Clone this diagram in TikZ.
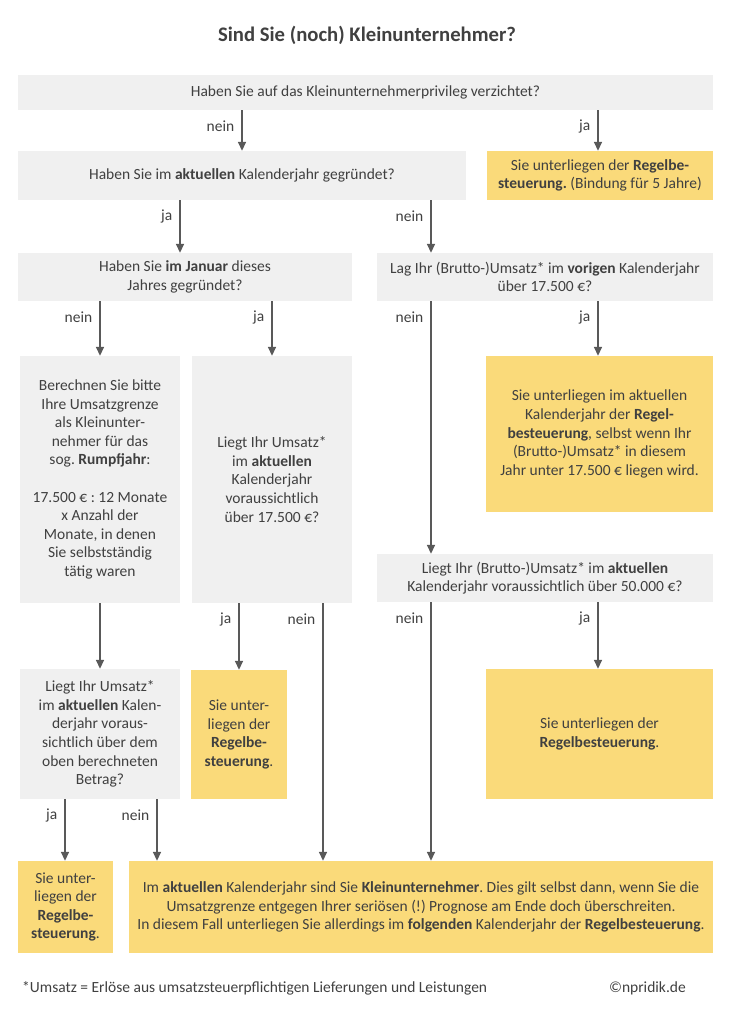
\documentclass[tikz,border=0pt]{standalone}
\usepackage{fontspec}
\setmainfont{Carlito}
\usepackage{xcolor}
\usepackage{tikz}
\usetikzlibrary{positioning, shapes, arrows.meta}

\definecolor{boxgray}{HTML}{F0F0F0}
\definecolor{boxyellow}{HTML}{FADA7A}
\definecolor{txtgray}{HTML}{404040}
\definecolor{arrowgray}{HTML}{595959}

\tikzset{
    frage/.style={fill=boxgray, text=txtgray, align=center, inner sep=2pt,
        font=\fontsize{15.5}{18.6}\selectfont\frenchspacing},
    antwort/.style={frage, fill=boxyellow},
    lbl/.style={text=txtgray, inner sep=0pt, anchor=east,
        font=\fontsize{15.5}{18}\selectfont, xshift=-7pt, yshift=-16pt},
    pfeil/.style={->, draw=arrowgray, line width=1.6pt}
}

\begin{document}
\begin{tikzpicture}[x=1pt, y=-1pt, >={Triangle[width=8pt,length=9pt]}]

    \useasboundingbox (0,0) rectangle (735,1029);

    % Title
    \node[text=txtgray, font=\fontsize{20.7}{24}\selectfont\bfseries] (titel) at (367,35) {Sind Sie (noch) Kleinunternehmer?};

    % Question nodes
    \node[frage, minimum width=695pt, minimum height=35pt] (verzicht) at (365.5,92.5) {Haben Sie auf das Kleinunternehmerprivileg verzichtet?};
    \node[frage, minimum width=448pt, minimum height=49pt] (gruendung) at (242,175.5) {Haben Sie im \textbf{aktuellen} Kalenderjahr gegründet?};
    \node[frage, minimum width=334pt, minimum height=48pt] (januar) at (185,277) {Haben Sie \textbf{im Januar} dieses\\Jahres gegründet?};
    \node[frage, minimum width=336pt, minimum height=48pt] (vorjahr) at (545,277) {Lag Ihr (Brutto-)Umsatz* im \textbf{vorigen} Kalenderjahr\\über 17.500~€?};
    \node[frage, minimum width=160pt, minimum height=247pt] (rumpf) at (100,479.5) {Berechnen Sie bitte\\Ihre Umsatzgrenze\\als Kleinunter-\\nehmer für das\\sog. \textbf{Rumpfjahr}:\\[18.6pt]17.500~€ : 12 Monate\\x Anzahl der\\Monate, in denen\\Sie selbstständig\\tätig waren};
    \node[frage, minimum width=160pt, minimum height=247pt] (prognosejahr) at (272,479.5) {Liegt Ihr Umsatz*\\im \textbf{aktuellen}\\Kalenderjahr\\voraussichtlich\\über 17.500~€?};
    \node[frage, minimum width=336pt, minimum height=48pt] (prognosefuenfzig) at (545,578) {Liegt Ihr (Brutto-)Umsatz* im \textbf{aktuellen}\\Kalenderjahr voraussichtlich über 50.000~€?};
    \node[frage, minimum width=160pt, minimum height=130pt] (prognoserumpf) at (100,734) {Liegt Ihr Umsatz*\\im \textbf{aktuellen} Kalen-\\derjahr voraus-\\sichtlich über dem\\oben berechneten\\Betrag?};

    % Result nodes
    \node[antwort, minimum width=226pt, minimum height=49pt] (regelfuenf) at (600,175.5) {Sie unterliegen der \textbf{Regelbe-}\\\textbf{steuerung.} (Bindung für 5 Jahre)};
    \node[antwort, minimum width=227pt, minimum height=156pt] (regelvorjahr) at (599.5,434) {Sie unterliegen im aktuellen\\Kalenderjahr der \textbf{Regel-}\\\textbf{besteuerung}, selbst wenn Ihr\\(Brutto-)Umsatz* in diesem\\Jahr unter 17.500~€ liegen wird.};
    \node[antwort, minimum width=227pt, minimum height=130pt] (regelfuenfzig) at (599.5,734) {Sie unterliegen der\\\textbf{Regelbesteuerung}.};
    \node[antwort, minimum width=96pt, minimum height=129pt] (regeljahr) at (239,734.5) {Sie unter-\\liegen der\\\textbf{Regelbe-}\\\textbf{steuerung}.};
    \node[antwort, minimum width=95pt, minimum height=92pt] (regelrumpf) at (65.5,907) {Sie unter-\\liegen der\\\textbf{Regelbe-}\\\textbf{steuerung}.};
    \node[antwort, minimum width=584pt, minimum height=92pt] (klein) at (421,907) {Im \textbf{aktuellen} Kalenderjahr sind Sie \textbf{Kleinunternehmer}. Dies gilt selbst dann, wenn Sie die\\Umsatzgrenze entgegen Ihrer seriösen (!) Prognose am Ende doch überschreiten.\\In diesem Fall unterliegen Sie allerdings im \textbf{folgenden} Kalenderjahr der \textbf{Regelbesteuerung}.};

    % Footer
    \node[text=txtgray, anchor=west, inner sep=0pt, font=\fontsize{15.5}{18}\selectfont] (fussnote) at (22,988) {*Umsatz = Erlöse aus umsatzsteuerpflichtigen Lieferungen und Leistungen};
    \node[text=txtgray, anchor=east, inner sep=0pt, font=\fontsize{15.5}{18}\selectfont] (quelle) at (686,988) {©npridik.de};

    % Arrow columns
    \coordinate (c1) at (65,0);
    \coordinate (c2) at (100,0);
    \coordinate (c3) at (157,0);
    \coordinate (c4) at (180,0);
    \coordinate (c5) at (239,0);
    \coordinate (c6) at (242,0);
    \coordinate (c7) at (272,0);
    \coordinate (c8) at (323,0);
    \coordinate (c9) at (431,0);
    \coordinate (c10) at (598,0);

    % Connections: first question
    \draw[pfeil] (c6 |- verzicht.south) -- (c6 |- gruendung.north) node[lbl, at start] {nein};
    \draw[pfeil] (c10 |- verzicht.south) -- (c10 |- regelfuenf.north) node[lbl, at start] {ja};

    % Connections: founding year
    \draw[pfeil] (c4 |- gruendung.south) -- (c4 |- januar.north) node[lbl, at start] {ja};
    \draw[pfeil] (c9 |- gruendung.south) -- (c9 |- vorjahr.north) node[lbl, at start] {nein};

    % Connections: January / previous year
    \draw[pfeil] (c2 |- januar.south) -- (c2 |- rumpf.north) node[lbl, at start] {nein};
    \draw[pfeil] (c7 |- januar.south) -- (c7 |- prognosejahr.north) node[lbl, at start] {ja};
    \draw[pfeil] (c9 |- vorjahr.south) -- (c9 |- prognosefuenfzig.north) node[lbl, at start] {nein};
    \draw[pfeil] (c10 |- vorjahr.south) -- (c10 |- regelvorjahr.north) node[lbl, at start] {ja};

    % Connections: forecasts
    \draw[pfeil] (c2 |- rumpf.south) -- (c2 |- prognoserumpf.north);
    \draw[pfeil] (c5 |- prognosejahr.south) -- (c5 |- regeljahr.north) node[lbl, at start] {ja};
    \draw[pfeil] (c8 |- prognosejahr.south) -- (c8 |- klein.north) node[lbl, at start] {nein};
    \draw[pfeil] (c9 |- prognosefuenfzig.south) -- (c9 |- klein.north) node[lbl, at start] {nein};
    \draw[pfeil] (c10 |- prognosefuenfzig.south) -- (c10 |- regelfuenfzig.north) node[lbl, at start] {ja};
    \draw[pfeil] (c1 |- prognoserumpf.south) -- (c1 |- regelrumpf.north) node[lbl, at start] {ja};
    \draw[pfeil] (c3 |- prognoserumpf.south) -- (c3 |- klein.north) node[lbl, at start] {nein};

\end{tikzpicture}
\end{document}
